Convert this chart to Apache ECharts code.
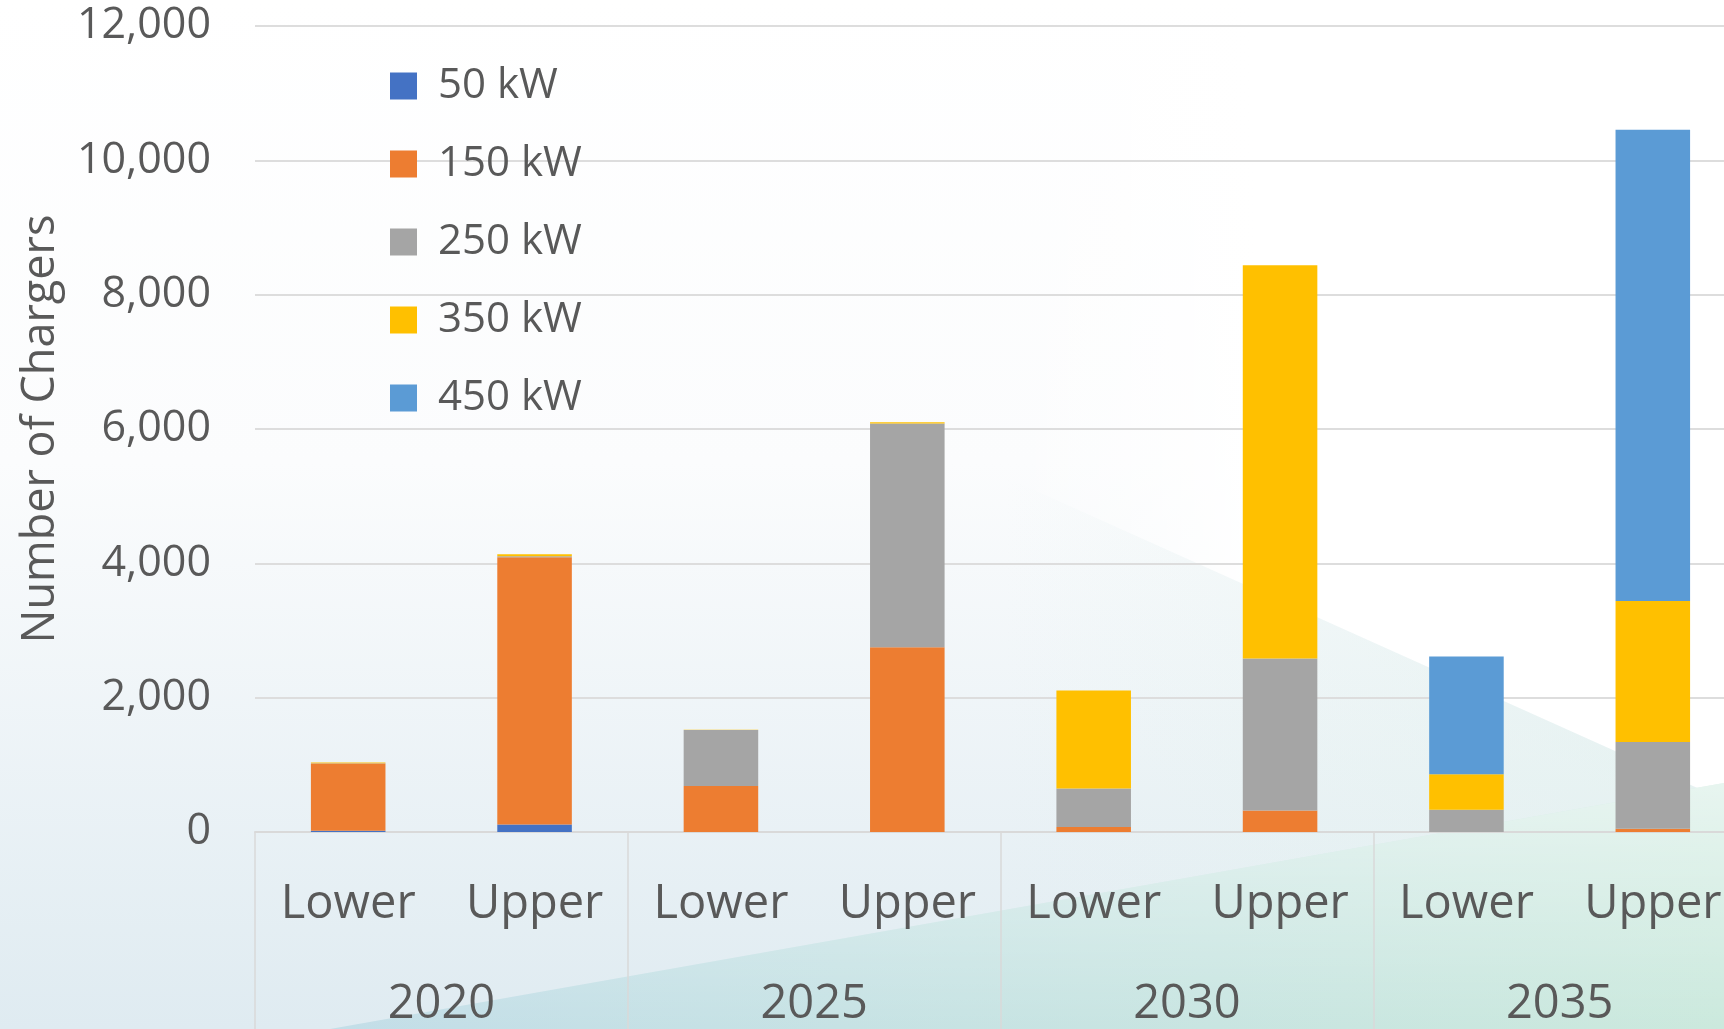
<!DOCTYPE html>
<html>
<head>
<meta charset="utf-8">
<script src="https://cdn.jsdelivr.net/npm/echarts@6/dist/echarts.min.js"></script>
<style>
  html, body { margin: 0; padding: 0; }
  #chart { width: 1724px; height: 1029px; }
</style>
</head>
<body>
<div id="chart"></div>
<script>
// scenarios inside each year, and the years
var scenarios = ['Lower', 'Upper', 'Lower', 'Upper', 'Lower', 'Upper', 'Lower', 'Upper'];
var years = ['2020', '2025', '2030', '2035'];
var seriesNames = ['50 kW', '150 kW', '250 kW', '350 kW', '450 kW'];
var colors = ['#4472C4', '#ED7D31', '#A5A5A5', '#FFC000', '#5B9BD5'];

var kw50  = [20, 110, 0, 0, 0, 0, 0, 0];
var kw150 = [1000, 3980, 685, 2750, 75, 319, 0, 50];
var kw250 = [5, 15, 834, 3331, 571, 2263, 333, 1290];
var kw350 = [10, 30, 5, 20, 1459, 5856, 526, 2100];
var kw450 = [0, 0, 0, 0, 0, 0, 1753, 7016];
var yTicks = [0, 2000, 4000, 6000, 8000, 10000, 12000];

var values = [kw50, kw150, kw250, kw350, kw450];

var myChart = echarts.init(document.getElementById('chart'));
var font = 'Open Sans';
var textColor = '#595959';

var option = {
    animation: false,
    backgroundColor: '#ffffff',
    textStyle: { fontFamily: font },
    graphic: [
        {
            type: 'rect', z: -100, silent: true,
            shape: { x: 0, y: 0, width: 1724, height: 1029 },
            style: {
                fill: new echarts.graphic.LinearGradient(0, 0, 0, 1, [
                    { offset: 0, color: '#FFFFFF' },
                    { offset: 0.45, color: '#FBFCFD' },
                    { offset: 1, color: '#DFEBF1' }
                ])
            }
        },
        {
            // white wedge in the upper right
            type: 'polygon', z: -99, silent: true,
            shape: { points: [[1005, 477], [1724, 800], [1724, 0], [1005, 0]] },
            style: {
                fill: new echarts.graphic.LinearGradient(0, 0, 1, 0, [
                    { offset: 0, color: 'rgba(255,255,255,0)' },
                    { offset: 0.35, color: 'rgba(255,255,255,1)' },
                    { offset: 1, color: 'rgba(255,255,255,1)' }
                ])
            }
        },
        {
            // faint mint tint under the falling edge
            type: 'polygon', z: -99, silent: true,
            shape: { points: [[1005, 477], [1724, 800], [1724, 1029], [1005, 1029]] },
            style: {
                fill: new echarts.graphic.LinearGradient(0, 0, 1, 0, [
                    { offset: 0, color: 'rgba(225,242,236,0)' },
                    { offset: 1, color: 'rgba(225,242,236,0.5)' }
                ])
            }
        },
        {
            type: 'polygon', z: -98, silent: true,
            shape: { points: [[330, 1029], [1724, 783], [1724, 1029]] },
            style: {
                fill: new echarts.graphic.LinearGradient(0, 0, 1, 0, [
                    { offset: 0, color: '#C3DEE8' },
                    { offset: 1, color: '#CBE9DD' }
                ])
            }
        },
        {
            type: 'polygon', z: -97, silent: true,
            shape: { points: [[330, 1029], [1724, 783], [1724, 1029]] },
            style: {
                fill: new echarts.graphic.LinearGradient(0, 0, 0, 1, [
                    { offset: 0, color: 'rgba(255,255,255,0.55)' },
                    { offset: 1, color: 'rgba(255,255,255,0)' }
                ])
            }
        }
    ],
    legend: {
        orient: 'vertical',
        left: 385,
        top: 60,
        itemWidth: 27,
        itemHeight: 27,
        itemGap: 36,
        icon: 'rect',
        data: seriesNames,
        textStyle: {
            fontFamily: font,
            fontSize: 42,
            lineHeight: 42,
            color: textColor,
            padding: [0, 0, 0, 16]
        }
    },
    grid: {
        left: 255,
        right: -22,
        top: 26,
        bottom: 197,
        containLabel: false,
        outerBoundsMode: 'none'
    },
    xAxis: [
        {
            type: 'category',
            data: scenarios,
            axisTick: { show: false },
            axisLine: { lineStyle: { color: '#D9D9D9', width: 2 } },
            axisLabel: {
                interval: 0,
                margin: 49,
                fontFamily: font,
                fontSize: 47,
                lineHeight: 47,
                color: textColor
            }
        },
        {
            type: 'category',
            data: years,
            position: 'bottom',
            axisLine: { show: false, onZero: false },
            axisTick: {
                show: true,
                interval: 0,
                length: 200,
                lineStyle: { color: '#D9D9D9', width: 1.5 }
            },
            axisLabel: {
                interval: 0,
                margin: 149,
                fontFamily: font,
                fontSize: 47,
                lineHeight: 47,
                color: textColor
            }
        }
    ],
    yAxis: {
        type: 'value',
        min: yTicks[0],
        max: yTicks[yTicks.length - 1],
        interval: 2000,
        name: 'Number of Chargers',
        nameLocation: 'middle',
        nameRotate: 90,
        nameGap: 191,
        nameTextStyle: { fontFamily: font, fontSize: 45, color: textColor },
        axisLine: { show: false },
        axisTick: { show: false },
        splitLine: { lineStyle: { color: '#DDDDDD', width: 2 } },
        axisLabel: {
            margin: 44,
            fontFamily: font,
            fontSize: 43,
            color: textColor,
            formatter: function (v) { return v.toLocaleString('en-US'); }
        }
    },
    series: seriesNames.map(function (name, i) {
        return {
            name: name,
            type: 'bar',
            stack: 'total',
            xAxisIndex: 0,
            barWidth: '40%',
            itemStyle: { color: colors[i] },
            data: values[i]
        };
    })
};

myChart.setOption(option);
</script>
</body>
</html>
